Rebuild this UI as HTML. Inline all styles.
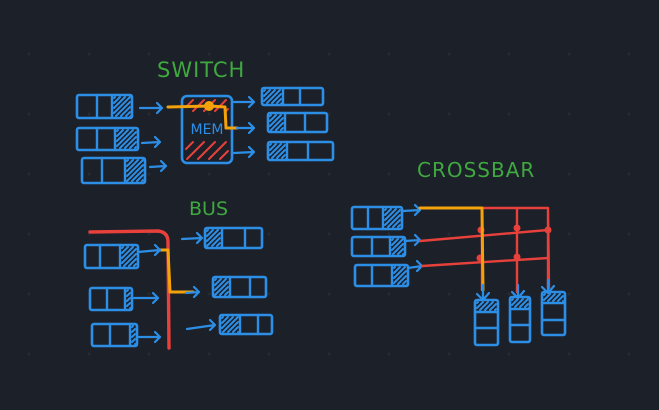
<!DOCTYPE html>
<html><head><meta charset="utf-8">
<style>
html,body{margin:0;padding:0;background:#1c2029;}
svg{display:block}
text{font-family:"DejaVu Sans","Liberation Sans",sans-serif;}
</style></head>
<body>
<svg id="s" width="659" height="410" viewBox="0 0 659 410" xmlns="http://www.w3.org/2000/svg">
<rect width="659" height="410" fill="#1c2029"/>
<g id="grid"></g>
<text x="157" y="77" fill="#3fa93f" font-size="21" letter-spacing="1">SWITCH</text>
<text x="189" y="215" fill="#3fa93f" font-size="19">BUS</text>
<text x="417" y="177" fill="#3fa93f" font-size="20" letter-spacing="1">CROSSBAR</text>
<g id="main" fill="none" stroke-linecap="round" stroke-linejoin="round"></g>
</svg>
<script>
var NS="http://www.w3.org/2000/svg";
var main=document.getElementById('main');
var grid=document.getElementById('grid');
var BLUE="#2d8ee6",RED="#e8413b",ORANGE="#f3a20c";
for(var gx=29;gx<659;gx+=60){for(var gy=54;gy<410;gy+=60){
 var d=document.createElementNS(NS,'circle');
 d.setAttribute('cx',gx);d.setAttribute('cy',gy);d.setAttribute('r',1.5);d.setAttribute('fill','#262b34');
 
 
 grid.appendChild(d);}}
function mk(tag,attrs,parent){var e=document.createElementNS(NS,tag);for(var k in attrs)e.setAttribute(k,attrs[k]);(parent||main).appendChild(e);return e;}
function hatch(g,x1,y1,x2,y2,color,step){
 var p="";for(var t=x1-(y2-y1);t<x2;t+=step){
  var ax=t,ay=y2,bx=t+(y2-y1),by=y1;
  if(ax<x1){ay=y2-(x1-ax);ax=x1;} if(bx>x2){by=y1+(bx-x2);bx=x2;}
  if(ay>y1+1&&by<y2-1&&ax<bx)p+="M"+(ax+2)+" "+(ay-2)+"L"+(bx-2)+" "+(by+2);}
 mk('path',{d:p,stroke:color,'stroke-width':2},g);}
function hqueue(x1,y1,x2,y2,d1,d2,hatchCell){
 var g=mk('g',{});
 
 
 mk('rect',{x:x1,y:y1,width:x2-x1,height:y2-y1,rx:2,stroke:BLUE,'stroke-width':2.6},g);
 mk('path',{d:"M"+d1+" "+y1+"V"+y2+"M"+d2+" "+y1+"V"+y2,stroke:BLUE,'stroke-width':2.4},g);
 if(hatchCell==='last')hatch(g,d2,y1,x2,y2,BLUE,5);
 if(hatchCell==='first')hatch(g,x1,y1,d1,y2,BLUE,5);
}
function vqueue(x1,y1,x2,y2,d1,d2){
 var g=mk('g',{});
 
 
 mk('rect',{x:x1,y:y1,width:x2-x1,height:y2-y1,rx:2,stroke:BLUE,'stroke-width':2.6},g);
 mk('path',{d:"M"+x1+" "+d1+"H"+x2+"M"+x1+" "+d2+"H"+x2,stroke:BLUE,'stroke-width':2.4},g);
 hatch(g,x1,y1,x2,d1,BLUE,5);
}
function arrow(x1,y1,x2,y2,color){
 var g=mk('g',{});
 
 
 mk('path',{d:"M"+x1+" "+y1+"L"+x2+" "+y2+"M"+(x2-5)+" "+(y2-5)+"L"+x2+" "+y2+"L"+(x2-5)+" "+(y2+5),stroke:color||BLUE,'stroke-width':2.2},g);
}
function varrow(x,y1,y2){
 var g=mk('g',{});
 
 
 mk('path',{d:"M"+x+" "+y1+"V"+y2+"M"+(x-6)+" "+(y2-6)+"L"+x+" "+y2+"L"+(x+6)+" "+(y2-7),stroke:BLUE,'stroke-width':2.2},g);
}
/* SWITCH */
hqueue(77,95,132,118,97,112,'last');
hqueue(77,128,138,150,97,115,'last');
hqueue(82,158,145,183,102,125,'last');
arrow(140,108,162,108);arrow(142,143,160,142);arrow(150,167,166,166);
var mem=mk('g',{});


hatch(mem,184,98,230,113,RED,11);
hatch(mem,184,140,230,161,RED,11);
mk('rect',{x:182,y:96,width:50,height:67,rx:5,stroke:BLUE,'stroke-width':2.6},mem);
var mt=mk('text',{x:207,y:134,'text-anchor':'middle',fill:BLUE,'font-size':14,stroke:'none'},mem);
mt.textContent="MEM";
var op=mk('path',{d:"M168 107L210 106L225 107L226 128L237 128",stroke:ORANGE,'stroke-width':3});


var od=mk('circle',{cx:209,cy:106,r:5,fill:ORANGE,stroke:'none'});


arrow(234,102,254,102);arrow(237,128,254,128);arrow(234,153,254,152);
hqueue(262,88,323,105,283,300,'first');
hqueue(268,113,327,132,285,305,'first');
hqueue(268,142,333,160,287,308,'first');
/* BUS */
var bus=mk('path',{d:"M90 232L158 231Q168 232 168 242L169 348",stroke:RED,'stroke-width':3.4});


var bo=mk('path',{d:"M160 250L168 250L170 292L193 292",stroke:ORANGE,'stroke-width':3});


hqueue(85,245,138,268,100,120,'last');
hqueue(90,288,132,310,107,125,'last');
hqueue(92,324,137,346,110,130,'last');
arrow(138,252,160,250);arrow(134,298,158,298);arrow(139,337,160,337);
arrow(182,239,202,238);arrow(186,293,199,292,BLUE);arrow(187,329,215,325);
hqueue(205,228,262,248,222,245,'first');
hqueue(213,277,266,297,230,250,'first');
hqueue(220,315,272,334,240,258,'first');
/* CROSSBAR */
hqueue(352,207,402,229,368,383,'last');
hqueue(352,237,405,256,372,390,'last');
hqueue(355,265,408,286,372,392,'last');
arrow(403,211,420,210,BLUE);arrow(405,241,420,240,BLUE);arrow(408,268,422,266,BLUE);
var xb=mk('path',{d:"M420 208L548 208L549 288M420 241L548 230M422 266L548 258M482 208L482 290M517 208L517 292M548 208L548 288",stroke:RED,'stroke-width':2.4});


var dots=[[481,230],[517,228],[548,230],[480,258],[517,257]];
dots.forEach(function(p){var c=mk('circle',{cx:p[0],cy:p[1],r:3.5,fill:RED,stroke:'none'});
 
 });
var xo=mk('path',{d:"M420 208L482 208L483 290",stroke:ORANGE,'stroke-width':3});


varrow(483,285,300);varrow(518,285,298);varrow(548,280,293);
vqueue(475,300,498,345,312,328);
vqueue(510,297,530,342,309,325);
vqueue(542,292,565,335,303,320);
</script>
</body></html>
